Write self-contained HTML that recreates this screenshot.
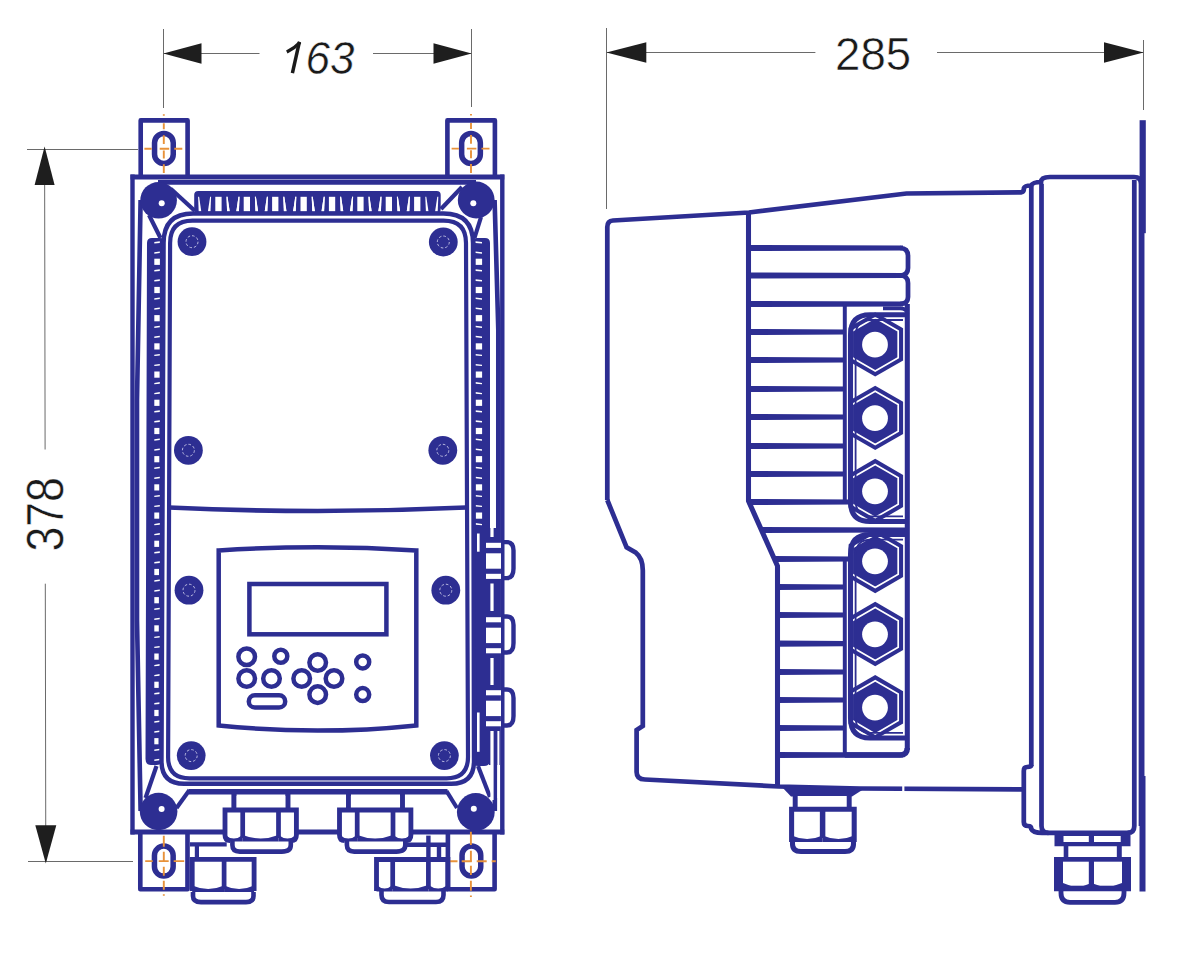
<!DOCTYPE html>
<html><head><meta charset="utf-8"><style>
html,body{margin:0;padding:0;background:#fff;}
body{width:1187px;height:960px;overflow:hidden;}
svg{display:block;}
.dim{font-family:"Liberation Sans",sans-serif;font-style:italic;font-size:44px;fill:#1a1a1a;stroke:#fff;stroke-width:0.5px;}
</style></head><body>
<svg width="1187" height="960" viewBox="0 0 1187 960" stroke-linecap="butt">
<line x1="163.5" y1="29" x2="163.5" y2="108" stroke="#6a6a6a" stroke-width="1.0" />
<line x1="471.5" y1="29" x2="471.5" y2="107" stroke="#6a6a6a" stroke-width="1.0" />
<line x1="163.5" y1="53.5" x2="259.5" y2="53.5" stroke="#6a6a6a" stroke-width="1.0" />
<line x1="373" y1="53.5" x2="471.5" y2="53.5" stroke="#6a6a6a" stroke-width="1.0" />
<path d="M163.4,53.5 L201.5,43.3 L201.5,63.7 Z" stroke="none" stroke-width="0" fill="#1e1e1e" />
<path d="M471.6,53.5 L433.5,43.3 L433.5,63.7 Z" stroke="none" stroke-width="0" fill="#1e1e1e" />
<text transform="translate(305.5,74.4) scale(0.965,1)" class="dim" style="font-size:45.6px">63</text>
<path d="M292.4,73.2 L299.4,41.8" stroke="#1a1a1a" stroke-width="3.5" fill="none"/>
<path d="M300,42.3 Q294.5,48.2 286.8,52" stroke="#1a1a1a" stroke-width="3.3" fill="none"/>
<line x1="606.5" y1="28" x2="606.5" y2="209" stroke="#6a6a6a" stroke-width="1.0" />
<line x1="1143.5" y1="40" x2="1143.5" y2="110" stroke="#6a6a6a" stroke-width="1.0" />
<line x1="606.5" y1="52.5" x2="815.4" y2="52.5" stroke="#6a6a6a" stroke-width="1.0" />
<line x1="937" y1="52.5" x2="1143.5" y2="52.5" stroke="#6a6a6a" stroke-width="1.0" />
<path d="M606.4,52.5 L646.3,42.3 L646.3,62.7 Z" stroke="none" stroke-width="0" fill="#1e1e1e" />
<path d="M1143.6,52.5 L1104,42.3 L1104,62.7 Z" stroke="none" stroke-width="0" fill="#1e1e1e" />
<text x="835.1" y="69.5" class="dim" style="font-style:normal;font-size:45.6px">285</text>
<line x1="27" y1="149.5" x2="138" y2="149.5" stroke="#6a6a6a" stroke-width="1.0" />
<line x1="28" y1="861.5" x2="133" y2="861.5" stroke="#6a6a6a" stroke-width="1.0" />
<line x1="44.6" y1="149" x2="45.1" y2="449.5" stroke="#6a6a6a" stroke-width="1.0" />
<line x1="45.3" y1="583.7" x2="45.8" y2="861" stroke="#6a6a6a" stroke-width="1.0" />
<path d="M44.6,146.5 L34.6,185 L54.6,185 Z" stroke="none" stroke-width="0" fill="#1e1e1e" />
<path d="M45.8,863.5 L35.3,825.3 L56.3,825.3 Z" stroke="none" stroke-width="0" fill="#1e1e1e" />
<text transform="translate(62.6,514.3) rotate(-90) scale(0.875,1)" text-anchor="middle" class="dim" style="font-style:normal;font-size:51px">378</text>
<path d="M140.7,178 L140.7,120.4 L187.6,120.4 L187.6,178" stroke="#2d2e92" stroke-width="4.62" fill="none" stroke-linejoin="round"/>
<path d="M447.4,178 L447.4,120.4 L494.9,120.4 L494.9,178" stroke="#2d2e92" stroke-width="4.62" fill="none" stroke-linejoin="round"/>
<path d="M140.3,830 L140.3,889.3 L187.5,889.3 L187.5,830" stroke="#2d2e92" stroke-width="4.62" fill="none" stroke-linejoin="round"/>
<path d="M447.9,830 L447.9,889.3 L494.6,889.3 L494.6,830" stroke="#2d2e92" stroke-width="4.62" fill="none" stroke-linejoin="round"/>
<rect x="154.55" y="133.5" width="18.7" height="30" rx="9.35" stroke="#2d2e92" stroke-width="5.5" fill="none"/>
<rect x="461.65" y="133.5" width="18.7" height="30" rx="9.35" stroke="#2d2e92" stroke-width="5.5" fill="none"/>
<rect x="154.45000000000002" y="846.1" width="18.7" height="30" rx="9.35" stroke="#2d2e92" stroke-width="5.5" fill="none"/>
<rect x="462.04999999999995" y="846" width="18.7" height="30" rx="9.35" stroke="#2d2e92" stroke-width="5.5" fill="none"/>
<line x1="132.5" y1="174.5" x2="132.5" y2="834.5" stroke="#2d2e92" stroke-width="4.4" />
<line x1="502.3" y1="174.5" x2="502.3" y2="834.5" stroke="#2d2e92" stroke-width="4.4" />
<line x1="130.5" y1="177" x2="504.3" y2="177" stroke="#2d2e92" stroke-width="4.84" />
<line x1="130.5" y1="832" x2="504.3" y2="832" stroke="#2d2e92" stroke-width="5.06" />
<line x1="158" y1="182.4" x2="476" y2="182.4" stroke="#2d2e92" stroke-width="4.84" />
<path d="M140.6,200 L137,400 L137,620 L140.6,811" stroke="#2d2e92" stroke-width="4.62" fill="none" />
<path d="M494.6,200 L498.3,330 L498.3,690 L495.1,728 L494.8,811" stroke="#2d2e92" stroke-width="4.62" fill="none" />
<line x1="189" y1="791.8" x2="447.5" y2="791.8" stroke="#2d2e92" stroke-width="5.5" />
<line x1="171" y1="189" x2="195" y2="211" stroke="#2d2e92" stroke-width="4.18" />
<line x1="149" y1="215" x2="160.5" y2="238" stroke="#2d2e92" stroke-width="4.18" />
<line x1="462" y1="187" x2="441" y2="209" stroke="#2d2e92" stroke-width="4.18" />
<line x1="481" y1="217" x2="474.5" y2="238" stroke="#2d2e92" stroke-width="4.18" />
<line x1="145.5" y1="798" x2="156.5" y2="766" stroke="#2d2e92" stroke-width="4.18" />
<line x1="176.5" y1="808" x2="189.5" y2="790" stroke="#2d2e92" stroke-width="4.18" />
<line x1="490" y1="797" x2="478" y2="766" stroke="#2d2e92" stroke-width="4.18" />
<line x1="457" y1="808" x2="446.5" y2="791" stroke="#2d2e92" stroke-width="4.18" />
<circle cx="158.6" cy="200.3" r="18.3" fill="#2d2e92"/>
<circle cx="161.7" cy="203.2" r="3.0" fill="#ffffff"/>
<circle cx="476.2" cy="200" r="18.4" fill="#2d2e92"/>
<circle cx="473.3" cy="203.2" r="3.0" fill="#ffffff"/>
<circle cx="158.6" cy="811.5" r="18.8" fill="#2d2e92"/>
<circle cx="161.6" cy="809" r="3.0" fill="#ffffff"/>
<circle cx="475.8" cy="812" r="18.9" fill="#2d2e92"/>
<circle cx="473.8" cy="808.8" r="3.0" fill="#ffffff"/>
<rect x="194.2" y="191" width="246.5" height="22" rx="4" fill="#2d2e92"/>
<rect x="215.3" y="196.8" width="6.3" height="14.8" fill="#ffffff"/>
<path d="M198.1,196.8 L199.1,196.8 L201.3,211.6 L198.7,211.6 Z" fill="#ffffff"/>
<path d="M210.1,196.8 L211.1,196.8 L210.5,211.6 L207.9,211.6 Z" fill="#ffffff"/>
<path d="M226.5,196.8 L227.5,196.8 L229.7,211.6 L227.1,211.6 Z" fill="#ffffff"/>
<path d="M238.5,196.8 L239.5,196.8 L238.9,211.6 L236.3,211.6 Z" fill="#ffffff"/>
<rect x="243.7" y="196.8" width="6.3" height="14.8" fill="#ffffff"/>
<path d="M226.5,196.8 L227.5,196.8 L229.7,211.6 L227.1,211.6 Z" fill="#ffffff"/>
<path d="M238.5,196.8 L239.5,196.8 L238.9,211.6 L236.3,211.6 Z" fill="#ffffff"/>
<path d="M254.9,196.8 L255.9,196.8 L258.1,211.6 L255.5,211.6 Z" fill="#ffffff"/>
<path d="M266.9,196.8 L267.9,196.8 L267.3,211.6 L264.7,211.6 Z" fill="#ffffff"/>
<rect x="272.1" y="196.8" width="6.3" height="14.8" fill="#ffffff"/>
<path d="M254.9,196.8 L255.9,196.8 L258.1,211.6 L255.5,211.6 Z" fill="#ffffff"/>
<path d="M266.9,196.8 L267.9,196.8 L267.3,211.6 L264.7,211.6 Z" fill="#ffffff"/>
<path d="M283.3,196.8 L284.3,196.8 L286.5,211.6 L283.9,211.6 Z" fill="#ffffff"/>
<path d="M295.3,196.8 L296.3,196.8 L295.7,211.6 L293.1,211.6 Z" fill="#ffffff"/>
<rect x="300.5" y="196.8" width="6.3" height="14.8" fill="#ffffff"/>
<path d="M283.3,196.8 L284.3,196.8 L286.5,211.6 L283.9,211.6 Z" fill="#ffffff"/>
<path d="M295.3,196.8 L296.3,196.8 L295.7,211.6 L293.1,211.6 Z" fill="#ffffff"/>
<path d="M311.7,196.8 L312.7,196.8 L314.9,211.6 L312.3,211.6 Z" fill="#ffffff"/>
<path d="M323.7,196.8 L324.7,196.8 L324.1,211.6 L321.5,211.6 Z" fill="#ffffff"/>
<rect x="328.9" y="196.8" width="6.3" height="14.8" fill="#ffffff"/>
<path d="M311.7,196.8 L312.7,196.8 L314.9,211.6 L312.3,211.6 Z" fill="#ffffff"/>
<path d="M323.7,196.8 L324.7,196.8 L324.1,211.6 L321.5,211.6 Z" fill="#ffffff"/>
<path d="M340.1,196.8 L341.1,196.8 L343.3,211.6 L340.7,211.6 Z" fill="#ffffff"/>
<path d="M352.1,196.8 L353.1,196.8 L352.5,211.6 L349.9,211.6 Z" fill="#ffffff"/>
<rect x="357.3" y="196.8" width="6.3" height="14.8" fill="#ffffff"/>
<path d="M340.1,196.8 L341.1,196.8 L343.3,211.6 L340.7,211.6 Z" fill="#ffffff"/>
<path d="M352.1,196.8 L353.1,196.8 L352.5,211.6 L349.9,211.6 Z" fill="#ffffff"/>
<path d="M368.5,196.8 L369.5,196.8 L371.7,211.6 L369.1,211.6 Z" fill="#ffffff"/>
<path d="M380.5,196.8 L381.5,196.8 L380.9,211.6 L378.3,211.6 Z" fill="#ffffff"/>
<rect x="385.7" y="196.8" width="6.3" height="14.8" fill="#ffffff"/>
<path d="M368.5,196.8 L369.5,196.8 L371.7,211.6 L369.1,211.6 Z" fill="#ffffff"/>
<path d="M380.5,196.8 L381.5,196.8 L380.9,211.6 L378.3,211.6 Z" fill="#ffffff"/>
<path d="M396.9,196.8 L397.9,196.8 L400.1,211.6 L397.5,211.6 Z" fill="#ffffff"/>
<path d="M408.9,196.8 L409.9,196.8 L409.3,211.6 L406.7,211.6 Z" fill="#ffffff"/>
<rect x="414.1" y="196.8" width="6.3" height="14.8" fill="#ffffff"/>
<path d="M396.9,196.8 L397.9,196.8 L400.1,211.6 L397.5,211.6 Z" fill="#ffffff"/>
<path d="M408.9,196.8 L409.9,196.8 L409.3,211.6 L406.7,211.6 Z" fill="#ffffff"/>
<path d="M425.3,196.8 L426.3,196.8 L428.5,211.6 L425.9,211.6 Z" fill="#ffffff"/>
<path d="M437.3,196.8 L438.3,196.8 L437.7,211.6 L435.1,211.6 Z" fill="#ffffff"/>
<path d="M147,243 Q147,238 152,238 L160,238 Q165,238 165,243 L162.5,759 Q162.5,765 156.5,765 L151,765 Q145.5,765 145.5,759 Z" fill="#2d2e92"/>
<path d="M472,243 Q472,238 477,238 L485,238 Q490,238 490,243 L490,760 Q490,766 484,766 L478,766 Q472,766 472,760 Z" fill="#2d2e92"/>
<path d="M154.3,242.1 L159.8,241.3 L159.8,242.9 L154.3,243.5 Z" fill="#ffffff"/>
<path d="M154.3,252.3 L159.8,251.5 L159.8,253.1 L154.3,253.7 Z" fill="#ffffff"/>
<path d="M475.5,241.3 L482,242.1 L482,243.5 L475.5,242.9 Z" fill="#ffffff"/>
<path d="M475.5,251.5 L482,252.3 L482,253.7 L475.5,253.1 Z" fill="#ffffff"/>
<rect x="154.3" y="258.7" width="5.6" height="6.2" fill="#ffffff"/>
<path d="M154.3,270.1 L159.8,269.3 L159.8,270.9 L154.3,271.5 Z" fill="#ffffff"/>
<path d="M154.3,280.1 L159.8,279.3 L159.8,280.9 L154.3,281.5 Z" fill="#ffffff"/>
<rect x="475.6" y="258.7" width="6.5" height="6.2" fill="#ffffff"/>
<path d="M475.5,269.3 L482,270.1 L482,271.5 L475.5,270.9 Z" fill="#ffffff"/>
<path d="M475.5,279.3 L482,280.1 L482,281.5 L475.5,280.9 Z" fill="#ffffff"/>
<rect x="154.3" y="286.9" width="5.5" height="6.2" fill="#ffffff"/>
<path d="M154.3,298.3 L159.8,297.5 L159.8,299.1 L154.3,299.7 Z" fill="#ffffff"/>
<path d="M154.3,308.3 L159.8,307.5 L159.8,309.1 L154.3,309.7 Z" fill="#ffffff"/>
<rect x="475.6" y="286.9" width="6.5" height="6.2" fill="#ffffff"/>
<path d="M475.5,297.5 L482,298.3 L482,299.7 L475.5,299.1 Z" fill="#ffffff"/>
<path d="M475.5,307.5 L482,308.3 L482,309.7 L475.5,309.1 Z" fill="#ffffff"/>
<rect x="154.3" y="315.1" width="5.4" height="6.2" fill="#ffffff"/>
<path d="M154.3,326.5 L159.8,325.7 L159.8,327.3 L154.3,327.9 Z" fill="#ffffff"/>
<path d="M154.3,336.5 L159.8,335.7 L159.8,337.3 L154.3,337.9 Z" fill="#ffffff"/>
<rect x="475.6" y="315.1" width="6.5" height="6.2" fill="#ffffff"/>
<path d="M475.5,325.7 L482,326.5 L482,327.9 L475.5,327.3 Z" fill="#ffffff"/>
<path d="M475.5,335.7 L482,336.5 L482,337.9 L475.5,337.3 Z" fill="#ffffff"/>
<rect x="154.3" y="343.3" width="5.3" height="6.2" fill="#ffffff"/>
<path d="M154.3,354.7 L159.8,353.9 L159.8,355.5 L154.3,356.1 Z" fill="#ffffff"/>
<path d="M154.3,364.7 L159.8,363.9 L159.8,365.5 L154.3,366.1 Z" fill="#ffffff"/>
<rect x="475.6" y="343.3" width="6.5" height="6.2" fill="#ffffff"/>
<path d="M475.5,353.9 L482,354.7 L482,356.1 L475.5,355.5 Z" fill="#ffffff"/>
<path d="M475.5,363.9 L482,364.7 L482,366.1 L475.5,365.5 Z" fill="#ffffff"/>
<rect x="154.3" y="371.5" width="5.3" height="6.2" fill="#ffffff"/>
<path d="M154.3,382.9 L159.8,382.1 L159.8,383.7 L154.3,384.3 Z" fill="#ffffff"/>
<path d="M154.3,392.9 L159.8,392.1 L159.8,393.7 L154.3,394.3 Z" fill="#ffffff"/>
<rect x="475.6" y="371.5" width="6.5" height="6.2" fill="#ffffff"/>
<path d="M475.5,382.1 L482,382.9 L482,384.3 L475.5,383.7 Z" fill="#ffffff"/>
<path d="M475.5,392.1 L482,392.9 L482,394.3 L475.5,393.7 Z" fill="#ffffff"/>
<rect x="154.3" y="399.7" width="5.2" height="6.2" fill="#ffffff"/>
<path d="M154.3,411.1 L159.8,410.3 L159.8,411.9 L154.3,412.5 Z" fill="#ffffff"/>
<path d="M154.3,421.1 L159.8,420.3 L159.8,421.9 L154.3,422.5 Z" fill="#ffffff"/>
<rect x="475.6" y="399.7" width="6.5" height="6.2" fill="#ffffff"/>
<path d="M475.5,410.3 L482,411.1 L482,412.5 L475.5,411.9 Z" fill="#ffffff"/>
<path d="M475.5,420.3 L482,421.1 L482,422.5 L475.5,421.9 Z" fill="#ffffff"/>
<rect x="154.3" y="427.9" width="5.1" height="6.2" fill="#ffffff"/>
<path d="M154.3,439.3 L159.8,438.5 L159.8,440.1 L154.3,440.7 Z" fill="#ffffff"/>
<path d="M154.3,449.3 L159.8,448.5 L159.8,450.1 L154.3,450.7 Z" fill="#ffffff"/>
<rect x="475.6" y="427.9" width="6.5" height="6.2" fill="#ffffff"/>
<path d="M475.5,438.5 L482,439.3 L482,440.7 L475.5,440.1 Z" fill="#ffffff"/>
<path d="M475.5,448.5 L482,449.3 L482,450.7 L475.5,450.1 Z" fill="#ffffff"/>
<rect x="154.3" y="456.1" width="5.0" height="6.2" fill="#ffffff"/>
<path d="M154.3,467.5 L159.8,466.7 L159.8,468.3 L154.3,468.9 Z" fill="#ffffff"/>
<path d="M154.3,477.5 L159.8,476.7 L159.8,478.3 L154.3,478.9 Z" fill="#ffffff"/>
<rect x="475.6" y="456.1" width="6.5" height="6.2" fill="#ffffff"/>
<path d="M475.5,466.7 L482,467.5 L482,468.9 L475.5,468.3 Z" fill="#ffffff"/>
<path d="M475.5,476.7 L482,477.5 L482,478.9 L475.5,478.3 Z" fill="#ffffff"/>
<rect x="154.3" y="484.3" width="4.9" height="6.2" fill="#ffffff"/>
<path d="M154.3,495.7 L159.8,494.9 L159.8,496.5 L154.3,497.1 Z" fill="#ffffff"/>
<path d="M154.3,505.7 L159.8,504.9 L159.8,506.5 L154.3,507.1 Z" fill="#ffffff"/>
<rect x="475.6" y="484.3" width="6.5" height="6.2" fill="#ffffff"/>
<path d="M475.5,494.9 L482,495.7 L482,497.1 L475.5,496.5 Z" fill="#ffffff"/>
<path d="M475.5,504.9 L482,505.7 L482,507.1 L475.5,506.5 Z" fill="#ffffff"/>
<rect x="154.3" y="512.5" width="4.9" height="6.2" fill="#ffffff"/>
<path d="M154.3,523.9 L159.8,523.1 L159.8,524.7 L154.3,525.3 Z" fill="#ffffff"/>
<path d="M154.3,533.9 L159.8,533.1 L159.8,534.7 L154.3,535.3 Z" fill="#ffffff"/>
<rect x="475.6" y="512.5" width="6.5" height="6.2" fill="#ffffff"/>
<path d="M475.5,523.1 L482,523.9 L482,525.3 L475.5,524.7 Z" fill="#ffffff"/>
<rect x="154.3" y="540.7" width="4.8" height="6.2" fill="#ffffff"/>
<path d="M154.3,552.1 L159.8,551.3 L159.8,552.9 L154.3,553.5 Z" fill="#ffffff"/>
<path d="M154.3,562.1 L159.8,561.3 L159.8,562.9 L154.3,563.5 Z" fill="#ffffff"/>
<rect x="154.3" y="568.9" width="4.7" height="6.2" fill="#ffffff"/>
<path d="M154.3,580.3 L159.8,579.5 L159.8,581.1 L154.3,581.7 Z" fill="#ffffff"/>
<path d="M154.3,590.3 L159.8,589.5 L159.8,591.1 L154.3,591.7 Z" fill="#ffffff"/>
<rect x="154.3" y="597.1" width="4.6" height="6.2" fill="#ffffff"/>
<path d="M154.3,608.5 L159.8,607.7 L159.8,609.3 L154.3,609.9 Z" fill="#ffffff"/>
<path d="M154.3,618.5 L159.8,617.7 L159.8,619.3 L154.3,619.9 Z" fill="#ffffff"/>
<rect x="154.3" y="625.3" width="4.5" height="6.2" fill="#ffffff"/>
<path d="M154.3,636.7 L159.8,635.9 L159.8,637.5 L154.3,638.1 Z" fill="#ffffff"/>
<path d="M154.3,646.7 L159.8,645.9 L159.8,647.5 L154.3,648.1 Z" fill="#ffffff"/>
<rect x="154.3" y="653.5" width="4.4" height="6.2" fill="#ffffff"/>
<path d="M154.3,664.9 L159.8,664.1 L159.8,665.7 L154.3,666.3 Z" fill="#ffffff"/>
<path d="M154.3,674.9 L159.8,674.1 L159.8,675.7 L154.3,676.3 Z" fill="#ffffff"/>
<rect x="154.3" y="681.7" width="4.4" height="6.2" fill="#ffffff"/>
<path d="M154.3,693.1 L159.8,692.3 L159.8,693.9 L154.3,694.5 Z" fill="#ffffff"/>
<path d="M154.3,703.1 L159.8,702.3 L159.8,703.9 L154.3,704.5 Z" fill="#ffffff"/>
<rect x="154.3" y="709.9" width="4.3" height="6.2" fill="#ffffff"/>
<path d="M154.3,721.3 L159.8,720.5 L159.8,722.1 L154.3,722.7 Z" fill="#ffffff"/>
<path d="M154.3,731.3 L159.8,730.5 L159.8,732.1 L154.3,732.7 Z" fill="#ffffff"/>
<rect x="154.3" y="738.1" width="4.2" height="6.2" fill="#ffffff"/>
<path d="M154.3,749.5 L159.8,748.7 L159.8,750.3 L154.3,750.9 Z" fill="#ffffff"/>
<path d="M154.3,759.5 L159.8,758.7 L159.8,760.3 L154.3,760.9 Z" fill="#ffffff"/>
<rect x="489" y="528" width="11" height="237" fill="#2d2e92"/>
<rect x="477" y="533.5" width="2.6" height="18.2" fill="#fff"/>
<rect x="477" y="712.5" width="2.6" height="39.3" fill="#fff"/>
<path d="M161.5,761 L163.6,243 Q163.6,213.5 193.1,213.5 L443.5,213.5 Q473,213.5 473,243 L474,761 Q474,783.8 451.2,783.8 L184.3,783.8 Q161.5,783.8 161.5,761 Z" stroke="#2d2e92" stroke-width="4.4" fill="none" />
<path d="M168.1,757 L170.1,243 Q170.1,220.6 192.5,220.6 L443.6,220.6 Q466,220.6 466,243 L468,757 Q468,778.3 446.7,778.3 L189.4,778.3 Q168.1,778.3 168.1,757 Z" stroke="#2d2e92" stroke-width="4.18" fill="none" />
<path d="M169,507.5 Q317.5,514.5 466,507.5" stroke="#2d2e92" stroke-width="4.62" fill="none" />
<path d="M218.7,725.4 L218.7,550.4 Q317.5,544.2 416.3,550.4 L416.3,725.4 Q317.5,735.8 218.7,725.4 Z" stroke="#2d2e92" stroke-width="4.51" fill="none" />
<rect x="249.4" y="584" width="137" height="50.3" rx="0" stroke="#2d2e92" stroke-width="4.51" fill="none"/>
<circle cx="246.7" cy="656.7" r="8.3" stroke="#2d2e92" stroke-width="4.51" fill="none"/>
<circle cx="280.8" cy="656.3" r="6.5" stroke="#2d2e92" stroke-width="4.51" fill="none"/>
<circle cx="246.7" cy="678.5" r="8.3" stroke="#2d2e92" stroke-width="4.51" fill="none"/>
<circle cx="271.5" cy="678.5" r="8.3" stroke="#2d2e92" stroke-width="4.51" fill="none"/>
<circle cx="301.7" cy="678.5" r="8.3" stroke="#2d2e92" stroke-width="4.51" fill="none"/>
<circle cx="317.7" cy="662.5" r="8.3" stroke="#2d2e92" stroke-width="4.51" fill="none"/>
<circle cx="334" cy="678.5" r="8.3" stroke="#2d2e92" stroke-width="4.51" fill="none"/>
<circle cx="317.7" cy="694.6" r="8.3" stroke="#2d2e92" stroke-width="4.51" fill="none"/>
<circle cx="362.7" cy="661.9" r="6.5" stroke="#2d2e92" stroke-width="4.51" fill="none"/>
<circle cx="362.7" cy="694.6" r="6.5" stroke="#2d2e92" stroke-width="4.51" fill="none"/>
<rect x="248.8" y="695.3" width="36.4" height="12.2" rx="6.1" stroke="#2d2e92" stroke-width="4.51" fill="none"/>
<circle cx="192" cy="241.7" r="14.4" fill="#2d2e92"/>
<circle cx="192" cy="241.7" r="6" stroke="#c8c8e8" stroke-width="0.9" fill="none" stroke-dasharray="2.6 2"/>
<circle cx="443.3" cy="242" r="14.4" fill="#2d2e92"/>
<circle cx="443.3" cy="242" r="6" stroke="#c8c8e8" stroke-width="0.9" fill="none" stroke-dasharray="2.6 2"/>
<circle cx="188.4" cy="450.3" r="14.4" fill="#2d2e92"/>
<circle cx="188.4" cy="450.3" r="6" stroke="#c8c8e8" stroke-width="0.9" fill="none" stroke-dasharray="2.6 2"/>
<circle cx="442.8" cy="450.3" r="14.4" fill="#2d2e92"/>
<circle cx="442.8" cy="450.3" r="6" stroke="#c8c8e8" stroke-width="0.9" fill="none" stroke-dasharray="2.6 2"/>
<circle cx="189" cy="590.2" r="14.4" fill="#2d2e92"/>
<circle cx="189" cy="590.2" r="6" stroke="#c8c8e8" stroke-width="0.9" fill="none" stroke-dasharray="2.6 2"/>
<circle cx="445.8" cy="590.2" r="14.4" fill="#2d2e92"/>
<circle cx="445.8" cy="590.2" r="6" stroke="#c8c8e8" stroke-width="0.9" fill="none" stroke-dasharray="2.6 2"/>
<circle cx="191.2" cy="755.6" r="14.4" fill="#2d2e92"/>
<circle cx="191.2" cy="755.6" r="6" stroke="#c8c8e8" stroke-width="0.9" fill="none" stroke-dasharray="2.6 2"/>
<circle cx="444.4" cy="755.6" r="14.4" fill="#2d2e92"/>
<circle cx="444.4" cy="755.6" r="6" stroke="#c8c8e8" stroke-width="0.9" fill="none" stroke-dasharray="2.6 2"/>
<path d="M144.4,148.8 h7.3 m8 0 h9.5 m5.1 0 h8" stroke="#e8923a" stroke-width="1.9" fill="none"/>
<path d="M163.8,114.20000000000002 v1.5 m0 7.6 v6 m0 5.9 v8.7 m0 6.6 v8 m0 5.8 v8.8" stroke="#e8923a" stroke-width="1.9" fill="none"/>
<path d="M451.6,148.6 h7.3 m8 0 h9.5 m5.1 0 h8" stroke="#e8923a" stroke-width="1.9" fill="none"/>
<path d="M471,114.0 v1.5 m0 7.6 v6 m0 5.9 v8.7 m0 6.6 v8 m0 5.8 v8.8" stroke="#e8923a" stroke-width="1.9" fill="none"/>
<path d="M145.2,861.1 h7.5 m6 0 h10 m5 0 h10.5" stroke="#e8923a" stroke-width="1.9" fill="none"/>
<path d="M163.8,835.8 v11 m0 5 v10 m0 5 v9 m0 5 v9 m0 4.5 v1.5" stroke="#e8923a" stroke-width="1.9" fill="none"/>
<path d="M447.5,861.25 h10 m4.2 0 h10 m5 0 h10 m5 0 h4.1" stroke="#e8923a" stroke-width="1.9" fill="none"/>
<path d="M470.9,831.7 v13.3 m0 5.8 v10.9 m0 4.1 v9.2 m0 5.8 v10 m0 4.7 v1.5" stroke="#e8923a" stroke-width="1.9" fill="none"/>
<path d="M607.3,500 L607.3,227 Q607.3,220.8 613,220.5 L749,212.5 L906.5,193.5 L1021,192.4 Q1024,192 1024,188 Q1025,185.5 1031,185.5 Q1033,182 1041,182 Q1041,177 1050,177 L1134,177 Q1141,177 1141,184 L1141,826" stroke="#2d2e92" stroke-width="4.73" fill="none" />
<path d="M607.3,500 L626.6,547.4 L636,552.8 Q642.8,558 642.8,570.4 L642.8,726 L636.6,730 L636.6,772 Q636.6,779.5 645,779.5 L778.7,786.5 L860,788.5 L1023,789.4" stroke="#2d2e92" stroke-width="4.73" fill="none" />
<path d="M748.5,212.5 L748.5,501 L777.5,566 L777.5,786" stroke="#2d2e92" stroke-width="5.06" fill="none" />
<line x1="1031.3" y1="186" x2="1031.3" y2="766" stroke="#2d2e92" stroke-width="4.73" />
<path d="M1041.5,184 L1041.5,826 Q1041.5,832.9 1048.5,832.9" stroke="#2d2e92" stroke-width="4.73" fill="none" />
<path d="M1134.3,180 L1134.3,826 Q1134.3,832.9 1127.5,832.9" stroke="#2d2e92" stroke-width="4.73" fill="none" />
<path d="M1031.3,765 Q1031.3,767 1027,767 Q1023.8,767 1023.8,771 L1023.8,822 Q1023.8,826 1028,826 Q1031.3,826 1031.3,829 Q1033,832.9 1042,832.9 L1130,832.9" stroke="#2d2e92" stroke-width="4.73" fill="none" />
<rect x="1139.6" y="120.2" width="6.2" height="113" fill="#2d2e92"/>
<line x1="1142.6" y1="233" x2="1142.6" y2="776" stroke="#2d2e92" stroke-width="3.74" />
<rect x="1139.5" y="776" width="6" height="115.5" fill="#2d2e92"/>
<path d="M875.2,312.2 L847.3,328.3 L847.3,360.5 L875.2,376.6 L903.1,360.5 L903.1,328.3 Z" fill="#2d2e92"/>
<path d="M875.2,317.8 L852.2,331.1 L852.2,357.7 L875.2,371.0 L898.2,357.7 L898.2,331.1 Z" fill="none" stroke="#fff" stroke-width="1.7"/>
<circle cx="875" cy="344.7" r="12.9" fill="#fff"/>
<path d="M875.2,385.7 L847.3,401.8 L847.3,434.0 L875.2,450.1 L903.1,434.0 L903.1,401.8 Z" fill="#2d2e92"/>
<path d="M875.2,391.3 L852.2,404.6 L852.2,431.2 L875.2,444.5 L898.2,431.2 L898.2,404.6 Z" fill="none" stroke="#fff" stroke-width="1.7"/>
<circle cx="875" cy="418.2" r="12.9" fill="#fff"/>
<path d="M875.2,458.8 L847.3,474.9 L847.3,507.1 L875.2,523.2 L903.1,507.1 L903.1,474.9 Z" fill="#2d2e92"/>
<path d="M875.2,464.4 L852.2,477.7 L852.2,504.3 L875.2,517.6 L898.2,504.3 L898.2,477.7 Z" fill="none" stroke="#fff" stroke-width="1.7"/>
<circle cx="875" cy="491.3" r="12.9" fill="#fff"/>
<rect x="846.6" y="302.8" width="2" height="230.7" fill="#fff"/>
<path d="M905,300.8 L846.6,300.8 L846.6,334.8 Q846.6,312.3 870,312.3 L905,312.3 Z" fill="#fff"/>
<path d="M905,535.5 L846.6,535.5 L846.6,501.5 Q846.6,524.0 870,524.0 L905,524.0 Z" fill="#fff"/>
<path d="M875.2,528.8 L847.3,544.9 L847.3,577.1 L875.2,593.2 L903.1,577.1 L903.1,544.9 Z" fill="#2d2e92"/>
<path d="M875.2,534.4 L852.2,547.7 L852.2,574.3 L875.2,587.6 L898.2,574.3 L898.2,547.7 Z" fill="none" stroke="#fff" stroke-width="1.7"/>
<circle cx="875" cy="561.3" r="12.9" fill="#fff"/>
<path d="M875.2,601.8 L847.3,617.9 L847.3,650.1 L875.2,666.2 L903.1,650.1 L903.1,617.9 Z" fill="#2d2e92"/>
<path d="M875.2,607.4 L852.2,620.7 L852.2,647.3 L875.2,660.6 L898.2,647.3 L898.2,620.7 Z" fill="none" stroke="#fff" stroke-width="1.7"/>
<circle cx="875" cy="634.3" r="12.9" fill="#fff"/>
<path d="M875.2,675.1 L847.3,691.2 L847.3,723.4 L875.2,739.5 L903.1,723.4 L903.1,691.2 Z" fill="#2d2e92"/>
<path d="M875.2,680.7 L852.2,694.0 L852.2,720.6 L875.2,733.9 L898.2,720.6 L898.2,694.0 Z" fill="none" stroke="#fff" stroke-width="1.7"/>
<circle cx="875" cy="707.5999999999999" r="12.9" fill="#fff"/>
<rect x="846.6" y="522.5" width="2" height="227.5" fill="#fff"/>
<path d="M905,520.5 L846.6,520.5 L846.6,554.5 Q846.6,532.0 870,532.0 L905,532.0 Z" fill="#fff"/>
<path d="M905,752 L846.6,752 L846.6,718 Q846.6,740.5 870,740.5 L905,740.5 Z" fill="#fff"/>
<path d="M747.5,244.9 L903.0,245.4 L903.0,250.6 L747.5,251.1 Z" fill="#2d2e92"/>
<path d="M747.5,272.4 L903.0,272.9 L903.0,278.1 L747.5,278.6 Z" fill="#2d2e92"/>
<path d="M747.5,300.9 L903.0,301.4 L903.0,306.6 L747.5,307.1 Z" fill="#2d2e92"/>
<path d="M747.5,328.9 L845.0,329.4 L845.0,334.6 L747.5,335.1 Z" fill="#2d2e92"/>
<path d="M747.5,356.9 L845.0,357.4 L845.0,362.6 L747.5,363.1 Z" fill="#2d2e92"/>
<path d="M747.5,385.9 L845.0,386.4 L845.0,391.6 L747.5,392.1 Z" fill="#2d2e92"/>
<path d="M747.5,413.9 L845.0,414.4 L845.0,419.6 L747.5,420.1 Z" fill="#2d2e92"/>
<path d="M747.5,442.9 L845.0,443.4 L845.0,448.6 L747.5,449.1 Z" fill="#2d2e92"/>
<path d="M747.5,470.9 L845.0,471.4 L845.0,476.6 L747.5,477.1 Z" fill="#2d2e92"/>
<path d="M747.9,498.9 L853.0,499.4 L853.0,504.6 L747.9,505.1 Z" fill="#2d2e92"/>
<path d="M760.4,526.9 L905.0,527.4 L905.0,532.6 L760.4,533.1 Z" fill="#2d2e92"/>
<path d="M773.4,555.9 L853.0,556.4 L853.0,561.6 L773.4,562.1 Z" fill="#2d2e92"/>
<path d="M776.5,583.9 L845.0,584.4 L845.0,589.6 L776.5,590.1 Z" fill="#2d2e92"/>
<path d="M776.5,611.9 L845.0,612.4 L845.0,617.6 L776.5,618.1 Z" fill="#2d2e92"/>
<path d="M776.5,640.5 L845.0,641.0 L845.0,646.2 L776.5,646.7 Z" fill="#2d2e92"/>
<path d="M776.5,668.9 L845.0,669.4 L845.0,674.6 L776.5,675.1 Z" fill="#2d2e92"/>
<path d="M776.5,696.9 L845.0,697.4 L845.0,702.6 L776.5,703.1 Z" fill="#2d2e92"/>
<path d="M776.5,724.9 L845.0,725.4 L845.0,730.6 L776.5,731.1 Z" fill="#2d2e92"/>
<path d="M776.5,751.9 L903.0,752.4 L903.0,757.6 L776.5,758.1 Z" fill="#2d2e92"/>
<path d="M900,248 Q908,248 908,256 L908,268 Q908,275.5 900,275.5" stroke="#2d2e92" stroke-width="4.73" fill="none" />
<path d="M900,275.5 Q908,275.5 908,283 L908,297 Q908,304 900,304" stroke="#2d2e92" stroke-width="4.73" fill="none" />
<path d="M883,308.4 L900,308.4 Q907.3,308.4 907.3,314" stroke="#2d2e92" stroke-width="3.74" fill="none" />
<line x1="844.8" y1="304" x2="844.8" y2="503" stroke="#2d2e92" stroke-width="3.96" />
<line x1="844.8" y1="558" x2="844.8" y2="757" stroke="#2d2e92" stroke-width="3.96" />
<line x1="907.3" y1="304" x2="907.3" y2="750" stroke="#2d2e92" stroke-width="5.06" />
<path d="M844.8,755 L900,755 Q907.3,755 907.3,748" stroke="#2d2e92" stroke-width="5.5" fill="none" />
<path d="M905,314.8 L870,314.8 Q850.5,314.8 850.5,334.8 L850.5,501.5 Q850.5,521.5 870,521.5 L905,521.5" stroke="#2d2e92" stroke-width="5.06" fill="none" />
<path d="M903,320.0 L871,320.0 Q855.6,320.0 855.6,335.8 L855.6,500.5 Q855.6,516.3 871,516.3 L903,516.3" stroke="#2d2e92" stroke-width="1.8" fill="none" />
<path d="M905,534.5 L870,534.5 Q850.5,534.5 850.5,554.5 L850.5,718 Q850.5,738 870,738 L905,738" stroke="#2d2e92" stroke-width="5.06" fill="none" />
<path d="M903,539.7 L871,539.7 Q855.6,539.7 855.6,555.5 L855.6,717 Q855.6,732.8 871,732.8 L903,732.8" stroke="#2d2e92" stroke-width="1.8" fill="none" />
<rect x="902.2" y="785" width="2.2" height="8" fill="#fff"/>
<path d="M781,786 L865,788.2 L852,796.5 L791,796.5 Z" fill="#2d2e92"/>
<rect x="797" y="796" width="50" height="11.5" fill="#fff"/>
<line x1="795.2" y1="796" x2="795.2" y2="809" stroke="#2d2e92" stroke-width="4.95" />
<line x1="849.2" y1="796" x2="849.2" y2="809" stroke="#2d2e92" stroke-width="4.95" />
<path d="M791.6,842 L791.6,809.3 L854.2,809.3 L854.2,842" stroke="#2d2e92" stroke-width="5.06" fill="none" />
<line x1="822.6" y1="809.3" x2="822.6" y2="838" stroke="#2d2e92" stroke-width="5.5" />
<path d="M791.6,835.6 Q807.1,842.6 822.6,835.6 L822.6,842.1 L791.6,842.1 Z" fill="#2d2e92"/>
<path d="M822.6,835.6 Q838.4000000000001,842.6 854.2,835.6 L854.2,842.1 L822.6,842.1 Z" fill="#2d2e92"/>
<path d="M792.5,842 L792.5,844 Q792.5,851.5 801,851.5 L845,851.5 Q853.5,851.5 853.5,844 L853.5,842" stroke="#2d2e92" stroke-width="5.06" fill="none" />
<path d="M1054.5,835 L1130.5,835 L1130.5,846.3 L1054.5,846.3 Z" fill="#2d2e92"/>
<rect x="1063.5" y="836" width="25.3" height="6" fill="#fff"/>
<rect x="1094" y="836" width="26.7" height="6" fill="#fff"/>
<line x1="1066" y1="846" x2="1066" y2="858" stroke="#2d2e92" stroke-width="4.62" />
<line x1="1119.3" y1="846" x2="1119.3" y2="858" stroke="#2d2e92" stroke-width="4.95" />
<path d="M1054,857 L1131,857 L1131,891.3 L1054,891.3 Z" fill="#2d2e92"/>
<rect x="1063" y="861.7" width="25.8" height="24" fill="#fff"/>
<rect x="1094" y="861.7" width="28" height="24" fill="#fff"/>
<path d="M1063,883 Q1077.2,890 1091.4,883 L1091.4,889.5 L1063,889.5 Z" fill="#2d2e92"/>
<path d="M1091.4,883 Q1106.7,890 1122,883 L1122,889.5 L1091.4,889.5 Z" fill="#2d2e92"/>
<path d="M1061,891 L1061,893 Q1061,902.3 1070,902.3 L1115,902.3 Q1124,902.3 1124,893 L1124,891" stroke="#2d2e92" stroke-width="4.84" fill="none" />
<line x1="234.0" y1="793" x2="234.0" y2="810" stroke="#2d2e92" stroke-width="4.73" />
<line x1="287.9" y1="793" x2="287.9" y2="810" stroke="#2d2e92" stroke-width="4.73" />
<rect x="225.0" y="810" width="71.4" height="29" fill="#fff"/>
<rect x="234.0" y="796" width="53.9" height="14" fill="#fff"/>
<line x1="234.0" y1="793" x2="234.0" y2="810" stroke="#2d2e92" stroke-width="4.73" />
<line x1="287.9" y1="793" x2="287.9" y2="810" stroke="#2d2e92" stroke-width="4.73" />
<path d="M230.0,840.5 Q225.0,840.5 225.0,835 L225.0,810 L296.4,810 L296.4,835 Q296.4,840.5 291.4,840.5" stroke="#2d2e92" stroke-width="4.84" fill="none" />
<line x1="242.70000000000002" y1="810" x2="242.70000000000002" y2="838" stroke="#2d2e92" stroke-width="4.73" />
<line x1="278.5" y1="810" x2="278.5" y2="838" stroke="#2d2e92" stroke-width="4.73" />
<path d="M225.0,835 Q233.85000000000002,842 242.70000000000002,835 L242.70000000000002,841.5 L225.0,841.5 Z" fill="#2d2e92"/>
<path d="M242.70000000000002,835 Q260.6,842 278.5,835 L278.5,841.5 L242.70000000000002,841.5 Z" fill="#2d2e92"/>
<path d="M278.5,835 Q287.45,842 296.4,835 L296.4,841.5 L278.5,841.5 Z" fill="#2d2e92"/>
<path d="M232.4,841 L232.4,845 Q232.4,851.6 239.8,851.6 L281.8,851.6 Q290.8,851.6 290.8,845 L290.8,841" stroke="#2d2e92" stroke-width="4.62" fill="none" />
<line x1="348.5" y1="793" x2="348.5" y2="810" stroke="#2d2e92" stroke-width="4.73" />
<line x1="402.4" y1="793" x2="402.4" y2="810" stroke="#2d2e92" stroke-width="4.73" />
<rect x="339.5" y="810" width="71.4" height="29" fill="#fff"/>
<rect x="348.5" y="796" width="53.9" height="14" fill="#fff"/>
<line x1="348.5" y1="793" x2="348.5" y2="810" stroke="#2d2e92" stroke-width="4.73" />
<line x1="402.4" y1="793" x2="402.4" y2="810" stroke="#2d2e92" stroke-width="4.73" />
<path d="M344.5,840.5 Q339.5,840.5 339.5,835 L339.5,810 L410.9,810 L410.9,835 Q410.9,840.5 405.9,840.5" stroke="#2d2e92" stroke-width="4.84" fill="none" />
<line x1="357.2" y1="810" x2="357.2" y2="838" stroke="#2d2e92" stroke-width="4.73" />
<line x1="393.0" y1="810" x2="393.0" y2="838" stroke="#2d2e92" stroke-width="4.73" />
<path d="M339.5,835 Q348.35,842 357.2,835 L357.2,841.5 L339.5,841.5 Z" fill="#2d2e92"/>
<path d="M357.2,835 Q375.1,842 393.0,835 L393.0,841.5 L357.2,841.5 Z" fill="#2d2e92"/>
<path d="M393.0,835 Q401.95,842 410.9,835 L410.9,841.5 L393.0,841.5 Z" fill="#2d2e92"/>
<path d="M346.90000000000003,841 L346.90000000000003,845 Q346.90000000000003,851.6 354.3,851.6 L396.3,851.6 Q405.3,851.6 405.3,845 L405.3,841" stroke="#2d2e92" stroke-width="4.62" fill="none" />
<line x1="190" y1="844.4" x2="226.7" y2="844.4" stroke="#2d2e92" stroke-width="4.18" />
<line x1="196.9" y1="846" x2="196.9" y2="859" stroke="#2d2e92" stroke-width="4.18" />
<path d="M192.2,891 L192.2,859.3 L254.1,859.3 L254.1,891" stroke="#2d2e92" stroke-width="4.84" fill="none" />
<line x1="224.1" y1="859.3" x2="224.1" y2="889" stroke="#2d2e92" stroke-width="4.73" />
<path d="M192.2,885.5 Q208.14999999999998,892.5 224.1,885.5 L224.1,892.0 L192.2,892.0 Z" fill="#2d2e92"/>
<path d="M224.1,885.5 Q239.1,892.5 254.1,885.5 L254.1,892.0 L224.1,892.0 Z" fill="#2d2e92"/>
<path d="M193,892 L193,896 Q193,902.1 201,902.1 L246,902.1 Q253.5,902.1 253.5,896 L253.5,892" stroke="#2d2e92" stroke-width="4.62" fill="none" />
<line x1="428.4" y1="835.6" x2="428.4" y2="859" stroke="#2d2e92" stroke-width="4.4" />
<line x1="439" y1="844" x2="439" y2="859" stroke="#2d2e92" stroke-width="4.4" />
<line x1="404" y1="844.7" x2="447" y2="844.7" stroke="#2d2e92" stroke-width="4.4" />
<path d="M376.5,891 L376.5,859.5 L447.9,859.5 L447.9,891" stroke="#2d2e92" stroke-width="4.84" fill="none" />
<line x1="392.7" y1="859.5" x2="392.7" y2="889" stroke="#2d2e92" stroke-width="4.73" />
<line x1="428.4" y1="859.5" x2="428.4" y2="889" stroke="#2d2e92" stroke-width="4.73" />
<path d="M376.5,885 Q384.6,892 392.7,885 L392.7,891.5 L376.5,891.5 Z" fill="#2d2e92"/>
<path d="M392.7,885 Q410.54999999999995,892 428.4,885 L428.4,891.5 L392.7,891.5 Z" fill="#2d2e92"/>
<path d="M428.4,885 Q438.15,892 447.9,885 L447.9,891.5 L428.4,891.5 Z" fill="#2d2e92"/>
<path d="M381.5,891 L381.5,895 Q381.5,902 389,902 L436,902 Q443.5,902 443.5,895 L443.5,891" stroke="#2d2e92" stroke-width="4.62" fill="none" />
<rect x="486" y="542.8" width="15" height="5.1" fill="#fff"/>
<rect x="486" y="553.3" width="15" height="15.4" fill="#fff"/>
<rect x="486" y="573.8" width="15" height="5.1" fill="#fff"/>
<path d="M503,542.1 L507,542.1 Q513.5,542.1 513.5,550.6 L513.5,568.6 Q513.5,578.1 507,578.1 L503,578.1" stroke="#2d2e92" stroke-width="4.4" fill="none" />
<rect x="486" y="617.2" width="15" height="5.1" fill="#fff"/>
<rect x="486" y="627.7" width="15" height="15.4" fill="#fff"/>
<rect x="486" y="648.2" width="15" height="5.1" fill="#fff"/>
<path d="M503,616.5 L507,616.5 Q513.5,616.5 513.5,625 L513.5,643 Q513.5,652.5 507,652.5 L503,652.5" stroke="#2d2e92" stroke-width="4.4" fill="none" />
<rect x="486" y="690.2" width="15" height="5.1" fill="#fff"/>
<rect x="486" y="700.7" width="15" height="15.4" fill="#fff"/>
<rect x="486" y="721.2" width="15" height="5.1" fill="#fff"/>
<path d="M503,689.5 L507,689.5 Q513.5,689.5 513.5,698 L513.5,716 Q513.5,725.5 507,725.5 L503,725.5" stroke="#2d2e92" stroke-width="4.4" fill="none" />
<rect x="490.4" y="500" width="3.2" height="37" fill="#fff"/>
<rect x="490.4" y="583.5" width="3.2" height="27.5" fill="#fff"/>
<rect x="490.4" y="658" width="3.2" height="27" fill="#fff"/>
<rect x="490.4" y="731" width="3.2" height="69" fill="#fff"/>
<rect x="497.4" y="731" width="2" height="67" fill="#fff"/>
</svg>
</body></html>
